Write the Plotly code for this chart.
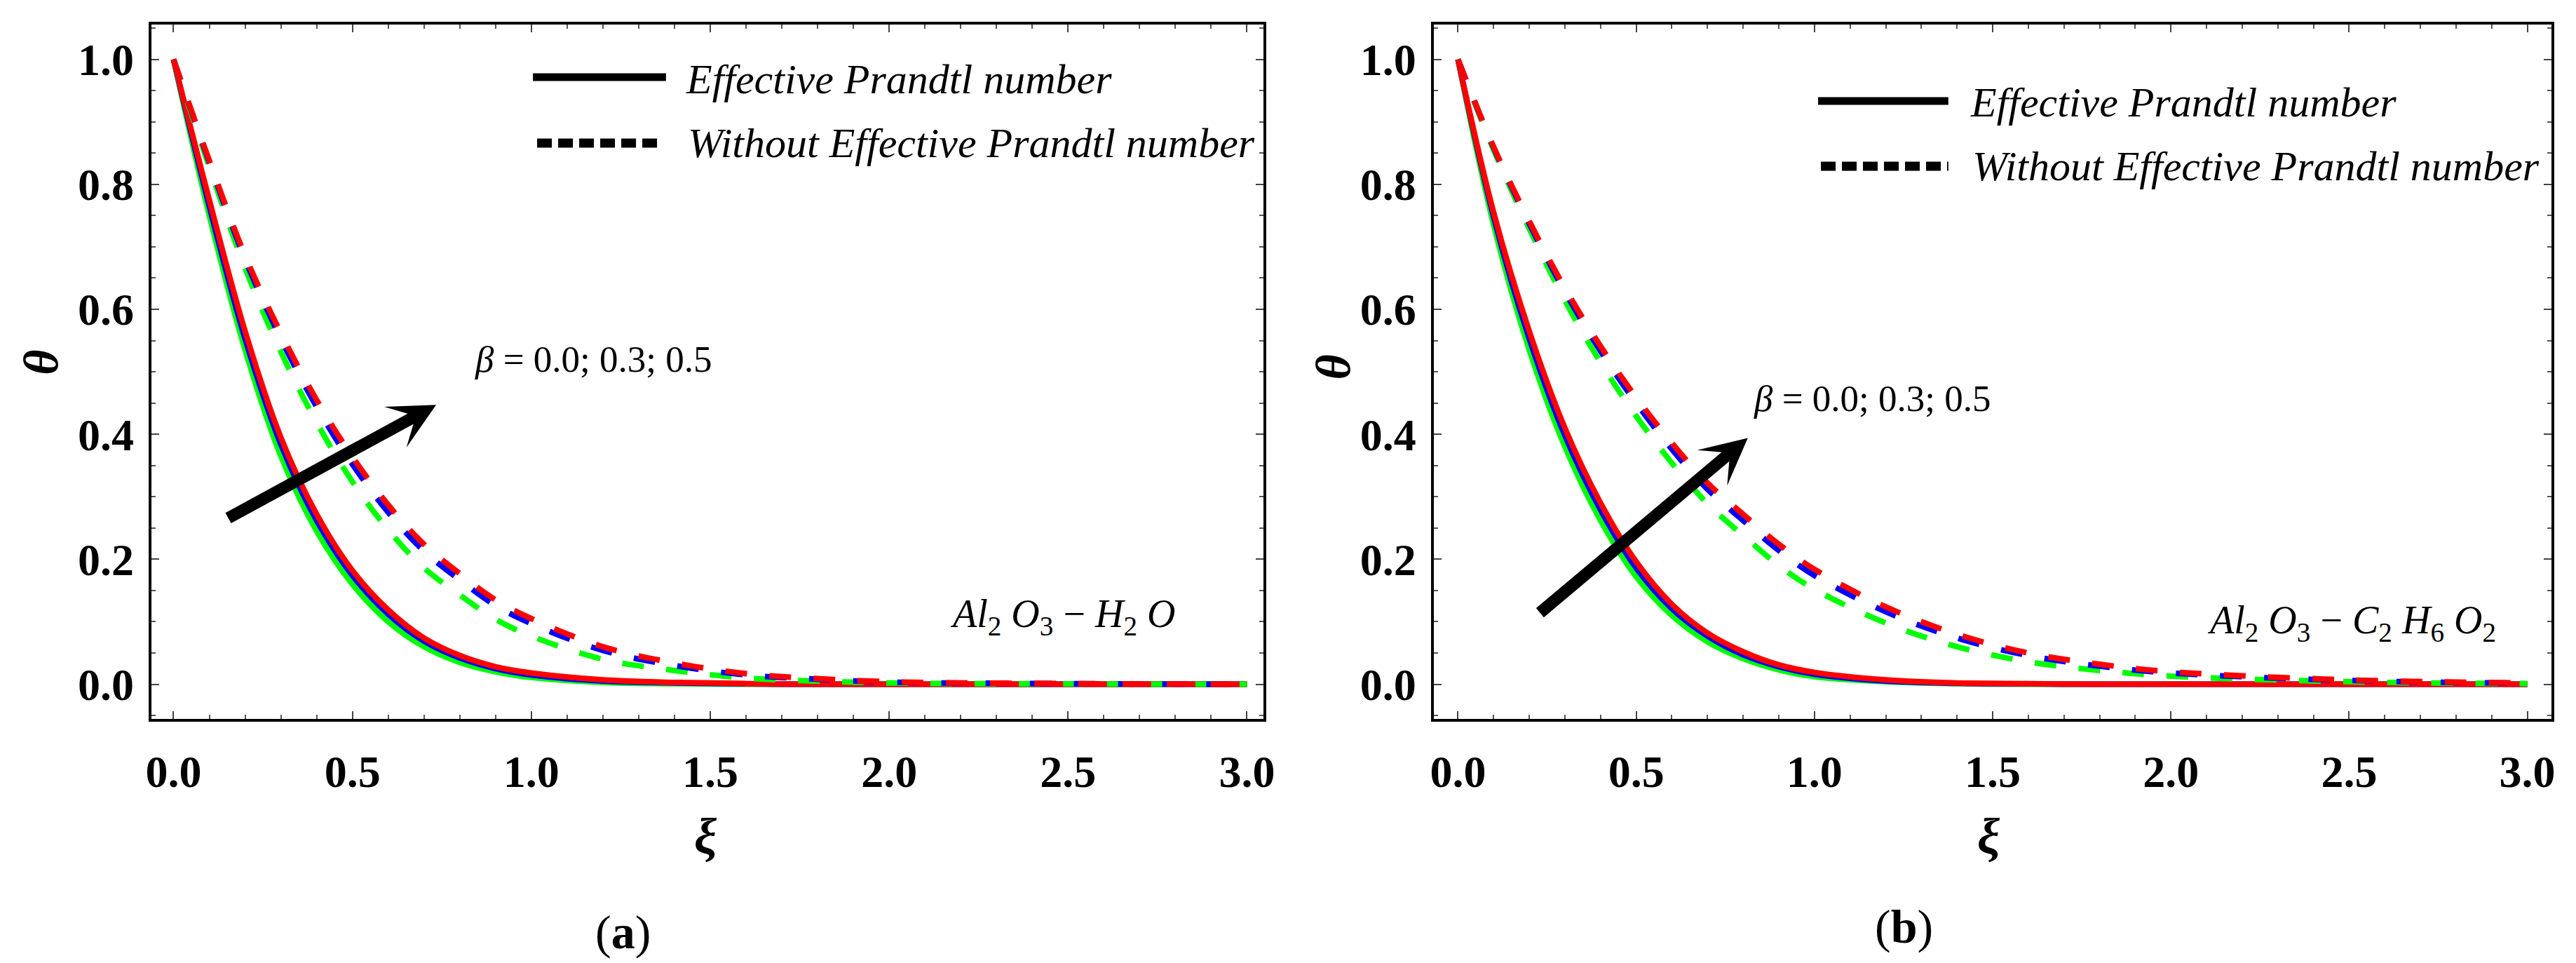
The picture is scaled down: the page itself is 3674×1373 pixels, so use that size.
import plotly.graph_objects as go

# xi grid
xi = [0, 0.1, 0.2, 0.3, 0.4, 0.5, 0.6, 0.7, 0.8, 0.9, 1.0, 1.2, 1.4, 1.6, 1.8, 2.0, 2.5, 3.0]

# (a) Al2O3 - H2O, effective Prandtl number (solid)
a_eff_b00 = [1.0, 0.750, 0.535, 0.365, 0.245, 0.160, 0.100, 0.060, 0.035, 0.020, 0.011, 0.003, 0.001, 0.0, 0.0, 0.0, 0.0, 0.0]
a_eff_b03 = [1.0, 0.765, 0.553, 0.384, 0.262, 0.174, 0.112, 0.069, 0.042, 0.025, 0.015, 0.005, 0.002, 0.0005, 0.0, 0.0, 0.0, 0.0]
a_eff_b05 = [1.0, 0.775, 0.565, 0.395, 0.272, 0.182, 0.119, 0.074, 0.046, 0.028, 0.018, 0.007, 0.003, 0.001, 0.0, 0.0, 0.0, 0.0]
# (a) without effective Prandtl number (dashed)
a_wo_b00 = [1.0, 0.828, 0.666, 0.532, 0.419, 0.324, 0.247, 0.186, 0.143, 0.104, 0.077, 0.040, 0.022, 0.010, 0.005, 0.002, 0.0005, 0.0]
a_wo_b03 = [1.0, 0.835, 0.680, 0.553, 0.444, 0.352, 0.275, 0.213, 0.167, 0.126, 0.097, 0.054, 0.030, 0.015, 0.008, 0.0034, 0.001, 0.0]
a_wo_b05 = [1.0, 0.838, 0.686, 0.562, 0.455, 0.364, 0.287, 0.224, 0.177, 0.135, 0.105, 0.060, 0.034, 0.017, 0.009, 0.004, 0.001, 0.0]

# (b) Al2O3 - C2H6O2, effective Prandtl number (solid)
b_eff_b00 = [1.0, 0.735, 0.535, 0.380, 0.262, 0.172, 0.110, 0.068, 0.041, 0.023, 0.012, 0.004, 0.001, 0.0, 0.0, 0.0, 0.0, 0.0]
b_eff_b03 = [1.0, 0.748, 0.553, 0.398, 0.279, 0.186, 0.121, 0.077, 0.047, 0.028, 0.016, 0.005, 0.0015, 0.0005, 0.0, 0.0, 0.0, 0.0]
b_eff_b05 = [1.0, 0.755, 0.565, 0.410, 0.290, 0.196, 0.128, 0.082, 0.052, 0.031, 0.019, 0.007, 0.002, 0.001, 0.0, 0.0, 0.0, 0.0]
# (b) without effective Prandtl number (dashed)
b_wo_b00 = [1.0, 0.855, 0.729, 0.614, 0.515, 0.429, 0.354, 0.289, 0.238, 0.190, 0.152, 0.098, 0.060, 0.036, 0.022, 0.013, 0.004, 0.001]
b_wo_b03 = [1.0, 0.8585, 0.737, 0.628, 0.533, 0.450, 0.376, 0.312, 0.262, 0.214, 0.174, 0.116, 0.074, 0.046, 0.029, 0.018, 0.006, 0.0017]
b_wo_b05 = [1.0, 0.860, 0.741, 0.634, 0.541, 0.459, 0.386, 0.322, 0.272, 0.224, 0.184, 0.124, 0.080, 0.050, 0.032, 0.020, 0.007, 0.002]

colors = ["#00ff00", "#0000ff", "#ff0000"]  # beta = 0.0, 0.3, 0.5
x_ticks = [0.0, 0.5, 1.0, 1.5, 2.0, 2.5, 3.0]
y_ticks = [0.0, 0.2, 0.4, 0.6, 0.8, 1.0]

W, H = 3674, 1373
SERIF = "Liberation Serif"

fig = go.Figure()

panels = [
    ("x", "y", [a_eff_b00, a_eff_b03, a_eff_b05], [a_wo_b00, a_wo_b03, a_wo_b05]),
    ("x2", "y2", [b_eff_b00, b_eff_b03, b_eff_b05], [b_wo_b00, b_wo_b03, b_wo_b05]),
]
for xa, ya, solid, dashed in panels:
    for vals, c in zip(solid, colors):
        fig.add_trace(go.Scatter(x=xi, y=vals, mode="lines", xaxis=xa, yaxis=ya,
                                 line=dict(color=c, width=8, shape="spline"),
                                 showlegend=False, hoverinfo="skip"))
    for vals, c in zip(dashed, colors):
        fig.add_trace(go.Scatter(x=xi, y=vals, mode="lines", xaxis=xa, yaxis=ya,
                                 line=dict(color=c, width=8, shape="spline", dash="31px,32px"),
                                 showlegend=False, hoverinfo="skip"))


def px(v):
    return v / W


def py(v):
    return 1 - v / H


tickfont = dict(family=SERIF, size=64, color="black", weight="bold")
xstyle = dict(tickvals=x_ticks, ticktext=["%.1f" % t for t in x_ticks], ticks="inside",
              ticklen=11, tickwidth=2, tickcolor="#444", showline=True, linecolor="black",
              linewidth=4, mirror="allticks", showgrid=False, zeroline=False,
              tickfont=tickfont, ticklabelstandoff=16,
              minor=dict(dtick=0.1, tick0=0, ticks="inside", ticklen=6, tickwidth=2, tickcolor="#555"))
ystyle = dict(tickvals=y_ticks, ticktext=["%.1f" % t for t in y_ticks], ticks="inside",
              ticklen=11, tickwidth=2, tickcolor="#444", showline=True, linecolor="black",
              linewidth=4, mirror="allticks", showgrid=False, zeroline=False,
              tickfont=tickfont, ticklabelstandoff=8, range=[-0.0555, 1.0557],
              minor=dict(dtick=0.05, tick0=0, ticks="inside", ticklen=6, tickwidth=2, tickcolor="#555"))

fig.update_layout(
    width=W, height=H, margin=dict(l=0, r=0, t=0, b=0),
    paper_bgcolor="white", plot_bgcolor="white",
    xaxis=dict(domain=[px(201), px(1798)], range=[-0.0623, 3.0466], anchor="y", **xstyle),
    yaxis=dict(domain=[py(1017), py(27)], anchor="x", **ystyle),
    xaxis2=dict(domain=[px(2042), px(3647)], range=[-0.0684, 3.068], anchor="y2", **xstyle),
    yaxis2=dict(domain=[py(1017), py(27)], anchor="x2", **ystyle),
)

ann = []
shapes = []


def text(x, y, s, size, anchor="left"):
    ann.append(dict(x=px(x), y=py(y), xref="paper", yref="paper", text=s, showarrow=False,
                    xanchor=anchor, yanchor="middle", font=dict(family=SERIF, size=size, color="black")))


# legends
for sx0, sx1, sy, dy0, dy1, dy, tx, ty1, ty2 in [
        (749, 940, 102, 755, 934, 196, 966, 105, 196),
        (2594, 2781, 136, 2598, 2781, 229, 2810, 138, 229)]:
    shapes.append(dict(type="line", xref="paper", yref="paper", x0=px(sx0), x1=px(sx1),
                       y0=py(sy), y1=py(sy), line=dict(color="black", width=11)))
    shapes.append(dict(type="line", xref="paper", yref="paper", x0=px(dy0), x1=px(dy1),
                       y0=py(dy), y1=py(dy), line=dict(color="black", width=13, dash="21px,9px")))
    text(tx, ty1, "<i>Effective Prandtl number</i>", 60)
    text(tx + 3, ty2, "<i>Without Effective Prandtl number</i>", 60)

# beta labels and arrows
text(663, 504, "<i>β</i> = 0.0; 0.3; 0.5", 53)
text(2499, 560, "<i>β</i> = 0.0; 0.3; 0.5", 53)
for xa, ya, hx, hy, tx_, ty_ in [("x", "y", 0.734, 0.447, 0.150, 0.265),
                                 ("x2", "y2", 0.813, 0.394, 0.227, 0.113)]:
    ann.append(dict(x=hx, y=hy, ax=tx_, ay=ty_, xref=xa, yref=ya, axref=xa, ayref=ya,
                    text="", showarrow=True, arrowhead=3, arrowwidth=17, arrowsize=0.65,
                    arrowcolor="black", standoff=0))

# fluid labels
text(1510, 871, "<i>Al</i><sub>2</sub> <i>O</i><sub>3</sub> \u2212 <i>H</i><sub>2</sub> <i>O</i>", 56, "center")
text(3360, 880, "<i>Al</i><sub>2</sub> <i>O</i><sub>3</sub> \u2212 <i>C</i><sub>2</sub> <i>H</i><sub>6</sub> <i>O</i><sub>2</sub>", 56, "center")

# axis titles and panel labels
for x0, yt, xx in [(43, 509, 997), (1897, 516, 2839)]:
    ann.append(dict(x=px(x0), y=py(yt), xref="paper", yref="paper", text="<b><i>θ</i></b>",
                    showarrow=False, textangle=-90, xanchor="center", yanchor="middle",
                    font=dict(family=SERIF, size=70, color="black")))
    text(xx, 1185, "<b><i>ξ</i></b>", 72, "center")
text(878, 1321, "(<b>a</b>)", 68, "center")
text(2717, 1313, "(<b>b</b>)", 68, "center")

fig.update_layout(annotations=ann, shapes=shapes)
fig.write_html("out.html")
